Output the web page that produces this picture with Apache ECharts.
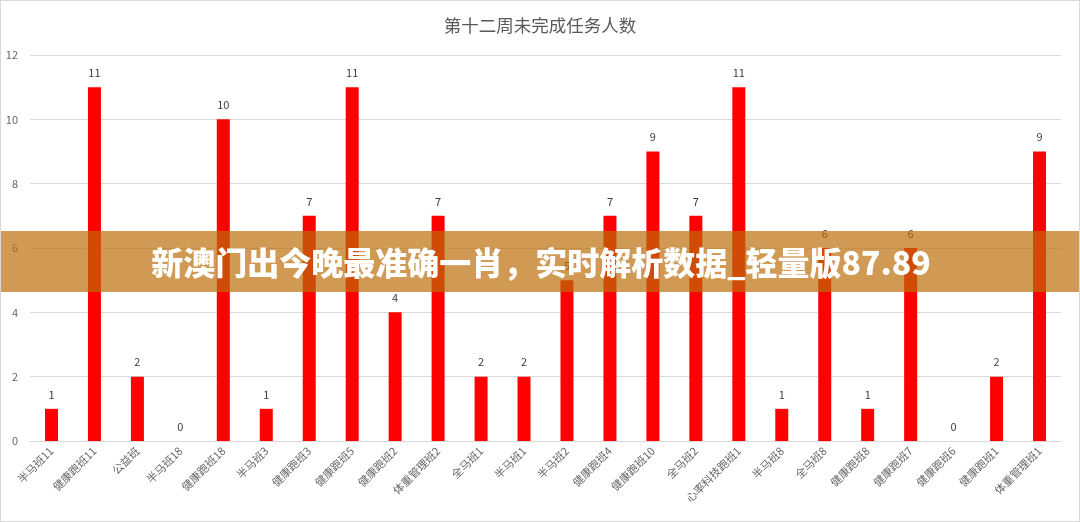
<!DOCTYPE html>
<html><head><meta charset="utf-8">
<script src="https://cdn.jsdelivr.net/npm/echarts@6/dist/echarts.min.js"></script>
<style>html,body{margin:0;padding:0;background:#fff}#c{width:1080px;height:522px;box-sizing:border-box;border:1px solid #d9d9d9}</style>
</head><body><div id="c"></div>
<script>
const categories = ['半马班11','健康跑班11','公益班','半马班18','健康跑班18','半马班3','健康跑班3','健康跑班5','健康跑班2','体重管理班2','全马班1','半马班1','半马班2','健康跑班4','健康跑班10','全马班2','心率科技跑班1','半马班8','全马班8','健康跑班8','健康跑班7','健康跑班6','健康跑班1','体重管理班1'];
const values = [1,11,2,0,10,1,7,11,4,7,2,2,5,7,9,7,11,1,6,1,6,0,2,9];
const titleText = '第十二周未完成任务人数';
const bannerText = '新澳门出今晚最准确一肖，实时解析数据_轻量版87.89';
const chart = echarts.init(document.getElementById('c'));
const font = '"Microsoft YaHei","Noto Sans CJK SC",sans-serif';
chart.setOption({
  animation:false,
  title:{text:titleText,left:'center',top:11,textStyle:{fontFamily:font,fontSize:17.5,fontWeight:'normal',color:'#595959'}},
  grid:{left:29,right:18,top:54,bottom:80,containLabel:false},
  xAxis:{type:'category',data:categories,
    axisLine:{lineStyle:{color:'#d9d9d9'}},axisTick:{show:false},
    axisLabel:{rotate:45,interval:0,fontFamily:font,fontSize:11,color:'#666',margin:8}},
  yAxis:{type:'value',min:0,max:12,interval:2,
    axisLine:{show:false},axisTick:{show:false},
    splitLine:{lineStyle:{color:'#d9d9d9'}},
    axisLabel:{fontFamily:font,fontSize:11,color:'#666',margin:12}},
  series:[{type:'bar',data:values,barWidth:13,itemStyle:{color:'#ff0000'},
    label:{show:true,position:'top',fontFamily:font,fontSize:11,color:'#404040',distance:9}}],
  graphic:[
    {type:'rect',shape:{x:0,y:230,width:1080,height:61},style:{fill:'rgba(187,108,7,0.69)'},z:100},
    {type:'text',x:540,y:262,style:{text:bannerText,fill:'#fff',font:'900 32px '+font,textAlign:'center',textVerticalAlign:'middle'},z:101}
  ]
});
</script></body></html>
